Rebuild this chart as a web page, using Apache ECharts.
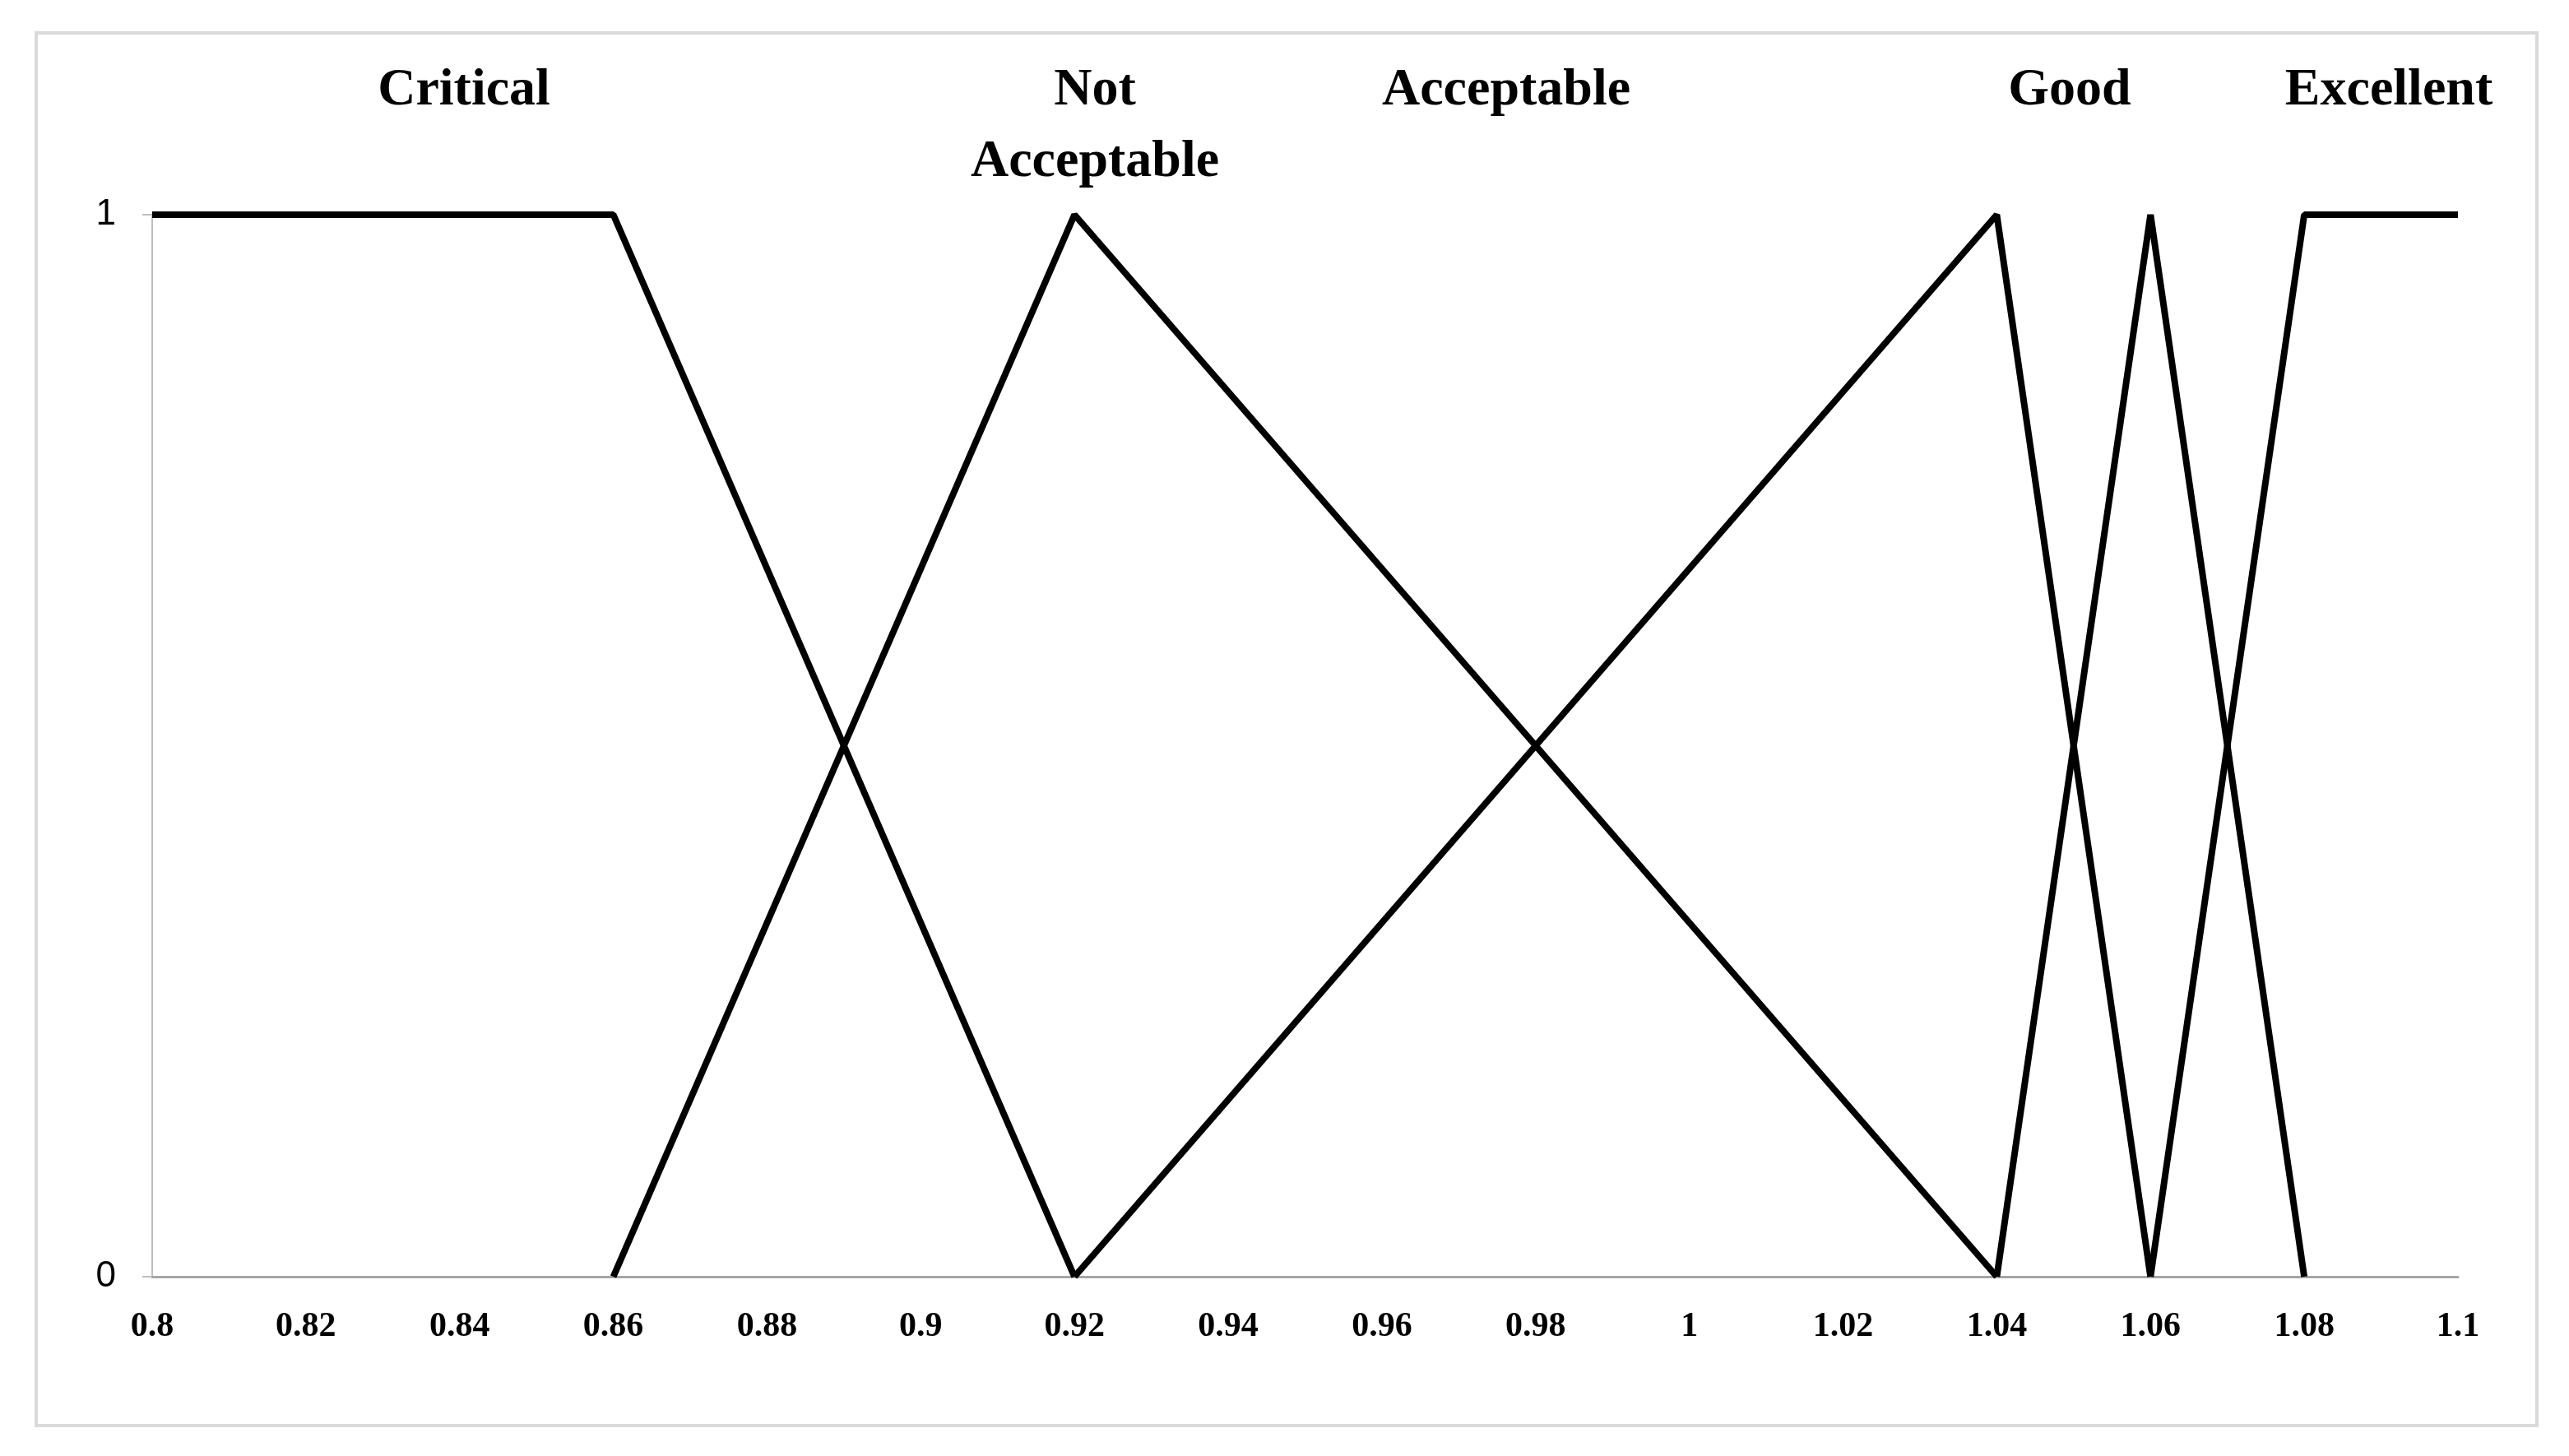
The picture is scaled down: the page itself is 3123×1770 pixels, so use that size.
<!DOCTYPE html>
<html>
<head>
<meta charset="utf-8">
<script src="https://cdn.jsdelivr.net/npm/echarts@6/dist/echarts.min.js"></script>
<style>
  html, body { margin: 0; padding: 0; background: #fff; }
  #chart { width: 3123px; height: 1770px; }
</style>
</head>
<body>
<div id="chart"></div>
<script>
// membership classes, their break points and membership values
const classNames = ['Critical', 'Not\nAcceptable', 'Acceptable', 'Good', 'Excellent'];
const criticalX = [0.8, 0.86, 0.92];
const criticalY = [1, 1, 0];
const notAcceptableX = [0.86, 0.92, 1.04];
const notAcceptableY = [0, 1, 0];
const acceptableX = [0.92, 1.04, 1.06];
const acceptableY = [0, 1, 0];
const goodX = [1.04, 1.06, 1.08];
const goodY = [0, 1, 0];
const excellentX = [1.06, 1.08, 1.1];
const excellentY = [0, 1, 1];

// where each class name sits above the plot (pixels)
const labelPos = [[564, 110], [1331, 154], [1831, 110], [2516, 110], [2904, 110]];

const lineSets = [
  [criticalX, criticalY],
  [notAcceptableX, notAcceptableY],
  [acceptableX, acceptableY],
  [goodX, goodY],
  [excellentX, excellentY]
];

let chart = echarts.init(document.getElementById('chart'));

let series = lineSets.map((s, i) => ({
  name: classNames[i],
  type: 'line',
  data: s[0].map((x, j) => [x, s[1][j]]),
  symbol: 'none',
  lineStyle: { color: '#000', width: 8 },
  animation: false
}));

chart.setOption({
  backgroundColor: '#fff',
  animation: false,
  grid: { left: 185, right: 135, top: 261, bottom: 218 },
  xAxis: {
    type: 'value',
    min: 0.8,
    max: 1.1,
    interval: 0.02,
    axisLine: { lineStyle: { color: '#a6a6a6', width: 3 } },
    axisTick: { show: false },
    splitLine: { show: false },
    axisLabel: {
      margin: 40,
      color: '#000',
      fontFamily: 'Liberation Serif',
      fontWeight: 'bold',
      fontSize: 42,
      formatter: v => String(+v.toFixed(2))
    }
  },
  yAxis: {
    type: 'value',
    min: 0,
    max: 1,
    interval: 1,
    axisLine: { show: true, lineStyle: { color: '#bfbfbf', width: 2 } },
    axisTick: { show: true, length: 12, lineStyle: { color: '#bfbfbf', width: 2 } },
    splitLine: { show: false },
    axisLabel: {
      margin: 44,
      color: '#000',
      fontFamily: 'Liberation Sans Narrow, Liberation Sans',
      fontSize: 44
    }
  },
  graphic: [
    {
      type: 'rect',
      shape: { x: 44, y: 40, width: 3040, height: 1693 },
      style: { fill: 'none', stroke: '#d9d9d9', lineWidth: 4 },
      silent: true
    }
  ].concat(classNames.map((name, i) => ({
    type: 'text',
    x: labelPos[i][0],
    y: labelPos[i][1],
    style: {
      text: name,
      fill: '#000',
      font: 'bold 64px "Liberation Serif"',
      textAlign: 'center',
      textVerticalAlign: 'middle',
      lineHeight: 87
    }
  }))),
  series: series
});
</script>
</body>
</html>
